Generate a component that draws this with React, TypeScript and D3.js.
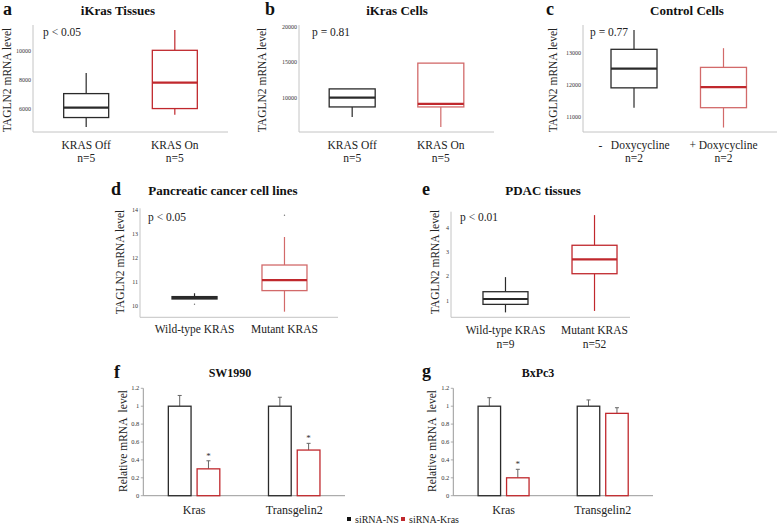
import React from "react";
import * as d3 from "d3";

const SERIF = "'Liberation Serif', 'Times New Roman', serif";
const BLACK = "#2a2a2a";
const RED = "#c0282d";
const RED_LIGHT = "#d26a6a";
const AXIS = "#c4c4c4";

// ---------- Box-plot data: [min, q1, median, q3, max] ----------
const aCategories = ["KRAS Off", "KRAS On"];
const aN = ["n=5", "n=5"];
const aStats = [
  [4740, 5400, 6090, 7055, 8480],
  [5590, 6020, 7820, 10050, 11450],
];
const aTicks = [6000, 8000, 10000];

const bCategories = ["KRAS Off", "KRAS On"];
const bN = ["n=5", "n=5"];
const bStats = [
  [7320, 8730, 10050, 11270, 11270],
  [5900, 8730, 9150, 14900, 14900],
];
const bTicks = [10000, 15000, 20000];

const cCategories = ["-   Doxycycline", "+ Doxycycline"];
const cN = ["n=2", "n=2"];
const cStats = [
  [11280, 11900, 12500, 13105, 13710],
  [10660, 11280, 11920, 12540, 13140],
];
const cTicks = [11000, 12000, 13000];

const dCategories = ["Wild-type KRAS", "Mutant KRAS"];
const dN: string[] = ["", ""];
const dStats = [
  [10.28, 10.28, 10.33, 10.38, 10.52],
  [9.75, 10.63, 11.07, 11.7, 12.87],
];
const dOutliers = [[10.06], [13.78]];
const dTicks = [10, 11, 12, 13, 14];

const eCategories = ["Wild-type KRAS", "Mutant KRAS"];
const eN = ["n=9", "n=52"];
const eStats = [
  [0.52, 0.85, 1.07, 1.37, 1.97],
  [0.58, 2.11, 2.7, 3.28, 4.52],
];
const eTicks = [1, 2, 3, 4];

// ---------- Bar data ----------
const barCategories = ["Kras", "Transgelin2"];
const barSeries = ["siRNA-NS", "siRNA-Kras"];
const fNS = [1, 1];
const fNSErr = [0.12, 0.1];
const fKras = [0.3, 0.51];
const fKrasErr = [0.09, 0.075];
const fSig = [true, true];
const gNS = [1, 1];
const gNSErr = [0.095, 0.07];
const gKras = [0.2, 0.92];
const gKrasErr = [0.095, 0.063];
const gSig = [true, false];

type BoxLayout = {
  x0: number; x1: number; yTop: number; yBot: number; domain: [number, number];
  span: number; pad: number; boxW: number;
  title: string; titleX: number; titleY: number;
  letter: string; letterX: number; letterY: number;
  pText: string; pX: number; pY: number;
  yLabelX: number; yLabelY: number;
  catY: number; nY: number;
  redBox: string;
};

function BoxPanel({ L, cats, stats, ticks, nLabels, outliers }: {
  L: BoxLayout; cats: string[]; stats: number[][]; ticks: number[]; nLabels: string[]; outliers?: number[][];
}) {
  const y = d3.scaleLinear().domain(L.domain).range([L.yBot, L.yTop]);
  const x = d3.scalePoint<string>().domain(cats).range([L.x0, L.x0 + L.span]).padding(L.pad);
  const cols = [BLACK, L.redBox];
  const meds = [BLACK, RED];
  return (
    <g>
      <text x={L.letterX} y={L.letterY} fontFamily={SERIF} fontWeight="bold" fontSize={18} fill="#111">{L.letter}</text>
      <text x={L.titleX} y={L.titleY} textAnchor="middle" fontFamily={SERIF} fontWeight="bold" fontSize={13} fill="#111">{L.title}</text>
      <line x1={L.x0} x2={L.x0} y1={L.yTop} y2={L.yBot} stroke={AXIS} strokeWidth={1} />
      <line x1={L.x0} x2={L.x1} y1={L.yBot} y2={L.yBot} stroke={AXIS} strokeWidth={1} />
      {ticks.map((t) => (
        <text key={t} x={L.x0 - 2} y={y(t)} dy="0.33em" textAnchor="end" fontFamily={SERIF} fontSize={6} fill="#333">{String(t)}</text>
      ))}
      <text transform={`translate(${L.yLabelX},${L.yLabelY}) rotate(-90)`} textAnchor="middle" dy="0.35em" fontFamily={SERIF} fontSize={11.5} fill="#222">TAGLN2 mRNA level</text>
      <text x={L.pX} y={L.pY} fontFamily={SERIF} fontSize={11.5} fill="#222">{L.pText}</text>
      {cats.map((c, i) => {
        const [mn, q1, md, q3, mx] = stats[i];
        const cx = x(c)!;
        const col = cols[i];
        return (
          <g key={c}>
            <line x1={cx} x2={cx} y1={y(mx)} y2={y(q3)} stroke={col} strokeWidth={1.2} />
            <line x1={cx} x2={cx} y1={y(q1)} y2={y(mn)} stroke={col} strokeWidth={1.2} />
            <rect x={cx - L.boxW / 2} y={y(q3)} width={L.boxW} height={Math.max(0.5, y(q1) - y(q3))} fill="white" stroke={col} strokeWidth={1.3} />
            <line x1={cx - L.boxW / 2} x2={cx + L.boxW / 2} y1={y(md)} y2={y(md)} stroke={meds[i]} strokeWidth={2.2} />
            {(outliers ? outliers[i] : []).map((o, k) => (
              <circle key={k} cx={cx} cy={y(o)} r={0.7} fill="#777" />
            ))}
            <text x={cx} y={L.catY} textAnchor="middle" fontFamily={SERIF} fontSize={11.5} fill="#222" style={{ whiteSpace: "pre" }}>{c}</text>
            {nLabels[i] ? (
              <text x={cx} y={L.nY} textAnchor="middle" fontFamily={SERIF} fontSize={11.5} fill="#222">{nLabels[i]}</text>
            ) : null}
          </g>
        );
      })}
    </g>
  );
}

type BarLayout = {
  x0: number; x1: number; yTop: number; yBot: number;
  title: string; titleX: number; titleY: number;
  letter: string; letterX: number; letterY: number;
  yLabelX: number; yLabelY: number; catY: number;
};

function BarPanel({ L, ns, nsErr, kr, krErr, sig }: {
  L: BarLayout; ns: number[]; nsErr: number[]; kr: number[]; krErr: number[]; sig: boolean[];
}) {
  const y = d3.scaleLinear().domain([0, 1.2]).range([L.yBot, L.yTop]);
  const x = d3.scaleBand<string>().domain(barCategories).range([L.x0, L.x1]).paddingInner(0.486).paddingOuter(0.25);
  const sub = d3.scaleBand<string>().domain(barSeries).range([0, x.bandwidth()]).paddingInner(0.21);
  const ticks = y.ticks(6);
  const vals = [ns, kr];
  const errs = [nsErr, krErr];
  const cols = [BLACK, RED];
  return (
    <g>
      <text x={L.letterX} y={L.letterY} fontFamily={SERIF} fontWeight="bold" fontSize={18} fill="#111">{L.letter}</text>
      <text x={L.titleX} y={L.titleY} textAnchor="middle" fontFamily={SERIF} fontWeight="bold" fontSize={12} fill="#111">{L.title}</text>
      <line x1={L.x0} x2={L.x0} y1={L.yTop} y2={L.yBot} stroke="#999" strokeWidth={1} />
      <line x1={L.x0} x2={L.x1} y1={L.yBot} y2={L.yBot} stroke="#999" strokeWidth={1} />
      {ticks.map((t) => (
        <g key={t}>
          <line x1={L.x0 - 2.5} x2={L.x0} y1={y(t)} y2={y(t)} stroke="#999" strokeWidth={0.8} />
          <text x={L.x0 - 4} y={y(t)} dy="0.33em" textAnchor="end" fontFamily={SERIF} fontSize={6.5} fill="#333">{String(+t.toFixed(1))}</text>
        </g>
      ))}
      <text transform={`translate(${L.yLabelX},${L.yLabelY}) rotate(-90)`} textAnchor="middle" dy="0.35em" fontFamily={SERIF} fontSize={11.5} fill="#222" style={{ whiteSpace: "pre" }}>{"Relative mRNA  level"}</text>
      {barCategories.map((c, i) => (
        <g key={c}>
          {barSeries.map((s, j) => {
            const bx = x(c)! + sub(s)!;
            const bw = sub.bandwidth();
            const v = vals[j][i];
            const e = errs[j][i];
            const cx = bx + bw / 2;
            return (
              <g key={s}>
                <line x1={cx} x2={cx} y1={y(v)} y2={y(v + e)} stroke="#666" strokeWidth={1} />
                <line x1={cx - 2} x2={cx + 2} y1={y(v + e)} y2={y(v + e)} stroke="#666" strokeWidth={1} />
                <rect x={bx} y={y(v)} width={bw} height={y(0) - y(v)} fill="white" stroke={cols[j]} strokeWidth={1.3} />
                {j === 1 && sig[i] ? (
                  <text x={cx} y={y(v + e) - 2} textAnchor="middle" fontFamily={SERIF} fontSize={9} fill="#333">*</text>
                ) : null}
              </g>
            );
          })}
          <text x={x(c)! + x.bandwidth() / 2} y={L.catY} textAnchor="middle" fontFamily={SERIF} fontSize={12} fill="#222">{c}</text>
        </g>
      ))}
    </g>
  );
}

const layoutA: BoxLayout = {
  x0: 33, x1: 228, yTop: 25, yBot: 132, domain: [4400, 11800], span: 195, pad: 0.6, boxW: 45,
  title: "iKras Tissues", titleX: 118, titleY: 15, letter: "a", letterX: 3, letterY: 15,
  pText: "p < 0.05", pX: 43, pY: 36, yLabelX: 7, yLabelY: 80, catY: 148.5, nY: 162, redBox: RED,
};
const layoutB: BoxLayout = {
  x0: 299, x1: 494, yTop: 25, yBot: 132, domain: [5200, 20270], span: 195, pad: 0.6, boxW: 46,
  title: "iKras Cells", titleX: 397, titleY: 15, letter: "b", letterX: 265, letterY: 15,
  pText: "p = 0.81", pX: 312, pY: 36, yLabelX: 262, yLabelY: 80, catY: 148.5, nY: 162, redBox: RED_LIGHT,
};
const layoutC: BoxLayout = {
  x0: 583, x1: 777, yTop: 25, yBot: 132, domain: [10520, 13865], span: 191.5, pad: 0.57, boxW: 46,
  title: "Control Cells", titleX: 687, titleY: 15, letter: "c", letterX: 546, letterY: 15,
  pText: "p = 0.77", pX: 590, pY: 36, yLabelX: 553, yLabelY: 80, catY: 148.5, nY: 162, redBox: RED_LIGHT,
};
const layoutD: BoxLayout = {
  x0: 140, x1: 338, yTop: 208.3, yBot: 317.3, domain: [9.515, 14.07], span: 199, pad: 0.606, boxW: 45,
  title: "Pancreatic cancer cell lines", titleX: 223, titleY: 195, letter: "d", letterX: 111, letterY: 195,
  pText: "p < 0.05", pX: 148, pY: 221, yLabelX: 120, yLabelY: 262, catY: 333, nY: 347, redBox: RED_LIGHT,
};
const layoutE: BoxLayout = {
  x0: 451, x1: 630, yTop: 211.7, yBot: 317.3, domain: [0.318, 4.66], span: 198, pad: 0.612, boxW: 45,
  title: "PDAC tissues", titleX: 543, titleY: 195, letter: "e", letterX: 422, letterY: 195,
  pText: "p < 0.01", pX: 460, pY: 221, yLabelX: 435, yLabelY: 262, catY: 333.5, nY: 347.5, redBox: RED,
};
const layoutF: BarLayout = {
  x0: 143.3, x1: 345, yTop: 388.3, yBot: 495.7,
  title: "SW1990", titleX: 230, titleY: 377, letter: "f", letterX: 114, letterY: 378,
  yLabelX: 123, yLabelY: 441, catY: 514,
};
const layoutG: BarLayout = {
  x0: 453.3, x1: 653, yTop: 388.3, yBot: 495.7,
  title: "BxPc3", titleX: 538, titleY: 377, letter: "g", letterX: 422, letterY: 377,
  yLabelX: 432, yLabelY: 441, catY: 514,
};

const legendItems = [
  { label: barSeries[0], color: "#111", x: 347 },
  { label: barSeries[1], color: RED, x: 401 },
];

export default function App() {
  return (
    <svg width={778} height={529} style={{ position: "absolute", left: 0, top: 0, background: "white" }}>
      <rect width={778} height={529} fill="white" />
      <BoxPanel L={layoutA} cats={aCategories} stats={aStats} ticks={aTicks} nLabels={aN} />
      <BoxPanel L={layoutB} cats={bCategories} stats={bStats} ticks={bTicks} nLabels={bN} />
      <BoxPanel L={layoutC} cats={cCategories} stats={cStats} ticks={cTicks} nLabels={cN} />
      <BoxPanel L={layoutD} cats={dCategories} stats={dStats} ticks={dTicks} nLabels={dN} outliers={dOutliers} />
      <BoxPanel L={layoutE} cats={eCategories} stats={eStats} ticks={eTicks} nLabels={eN} />
      <BarPanel L={layoutF} ns={fNS} nsErr={fNSErr} kr={fKras} krErr={fKrasErr} sig={fSig} />
      <BarPanel L={layoutG} ns={gNS} nsErr={gNSErr} kr={gKras} krErr={gKrasErr} sig={gSig} />
      {legendItems.map((it) => (
        <g key={it.label}>
          <rect x={it.x} y={517} width={4} height={4} fill={it.color} />
          <text x={it.x + 8} y={523} fontFamily={SERIF} fontSize={10} fill="#222">{it.label}</text>
        </g>
      ))}
    </svg>
  );
}
